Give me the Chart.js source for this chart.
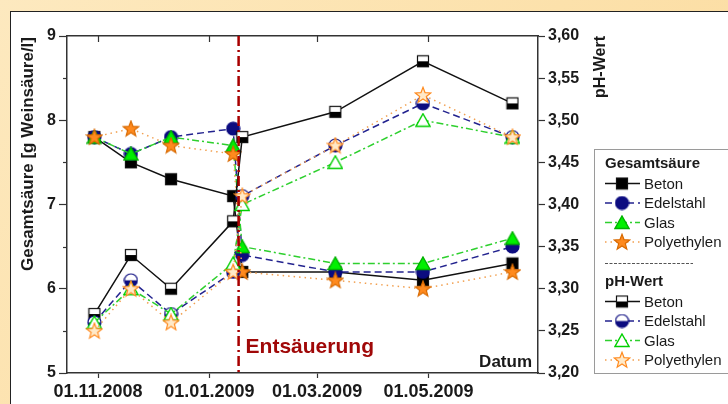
<!DOCTYPE html>
<html>
<head>
<meta charset="utf-8">
<script src="https://cdn.jsdelivr.net/npm/chart.js@4.4.1/dist/chart.umd.min.js"></script>
<style>
  html, body { margin: 0; padding: 0; }
  body {
    width: 728px; height: 404px; overflow: hidden; position: relative;
    background: linear-gradient(135deg, #fde9bf 0%, #fce1ab 50%, #fbd99a 100%);
  }
  #panel {
    position: absolute; left: 10px; top: 11px; width: 740px; height: 420px;
    background: #fff; border: 1.5px solid #222;
  }
  #chart { position: absolute; left: 0; top: 0; }
</style>
</head>
<body>
<div id="panel"></div>
<canvas id="chart" width="728" height="404"></canvas>
<script>
// Probenahme-Termine
const sampleDates = ['2008-10-30', '2008-11-19', '2008-12-11', '2009-01-14', '2009-01-19', '2009-03-11', '2009-04-28', '2009-06-16'];
const eventDate = '2009-01-17'; // Entsäuerung
const axisStart = '2008-10-15';
const axisEnd = '2009-06-30';
const tickDates = ['2008-11-01', '2009-01-01', '2009-03-01', '2009-05-01'];

// Gesamtsäure [g Weinsäure/l]
const gesBeton     = [7.8, 7.5, 7.3, 7.1, 6.2, 6.2, 6.1, 6.3];
const gesEdelstahl = [7.8, 7.6, 7.8, 7.9, 6.4, 6.2, 6.2, 6.5];
const gesGlas      = [7.8, 7.6, 7.8, 7.7, 6.5, 6.3, 6.3, 6.6];
const gesPoly      = [7.8, 7.9, 7.7, 7.6, 6.2, 6.1, 6.0, 6.2];

// pH-Wert
const phBeton     = [3.27, 3.34, 3.30, 3.38, 3.48, 3.51, 3.57, 3.52];
const phEdelstahl = [3.26, 3.31, 3.27, 3.32, 3.41, 3.47, 3.52, 3.48];
const phGlas      = [3.26, 3.30, 3.27, 3.33, 3.40, 3.45, 3.50, 3.48];
const phPoly      = [3.25, 3.30, 3.26, 3.32, 3.41, 3.47, 3.53, 3.48];

const materials = ['Beton', 'Edelstahl', 'Glas', 'Polyethylen'];
const leftTicks = [5, 6, 7, 8, 9];

const FONT = 'Arial, "Liberation Sans", sans-serif';

function day(s) {
  return Date.UTC(+s.slice(0, 4), +s.slice(5, 7) - 1, +s.slice(8, 10)) / 86400000;
}
function fmtDay(d) {
  const dt = new Date(d * 86400000);
  const p = n => String(n).padStart(2, '0');
  return p(dt.getUTCDate()) + '.' + p(dt.getUTCMonth() + 1) + '.' + dt.getUTCFullYear();
}

// --- Marker-Bilder ---
function mk(w, h, fn) {
  const c = document.createElement('canvas');
  c.width = w; c.height = h;
  fn(c.getContext('2d'));
  return c;
}
function square(top, bottom) {
  return mk(14, 14, g => {
    g.fillStyle = top; g.fillRect(1, 1, 12, 12);
    g.fillStyle = bottom; g.fillRect(1, 7, 12, 6);
    g.strokeStyle = '#111'; g.lineWidth = 1.2; g.strokeRect(1.5, 1.5, 11, 11);
  });
}
function circle(top, bottom, edge) {
  return mk(15, 15, g => {
    g.beginPath(); g.arc(7.5, 7.5, 6.5, 0, Math.PI * 2); g.fillStyle = top; g.fill();
    g.save(); g.beginPath(); g.rect(0, 7.5, 15, 8); g.clip();
    g.beginPath(); g.arc(7.5, 7.5, 6.5, 0, Math.PI * 2); g.fillStyle = bottom; g.fill();
    g.restore();
    g.beginPath(); g.arc(7.5, 7.5, 6.5, 0, Math.PI * 2); g.strokeStyle = edge; g.lineWidth = 1.2; g.stroke();
  });
}
function triangle(fill, edge) {
  return mk(16, 15, g => {
    g.beginPath(); g.moveTo(8, 1); g.lineTo(15, 13.5); g.lineTo(1, 13.5); g.closePath();
    g.fillStyle = fill; g.fill(); g.strokeStyle = edge; g.lineWidth = 1.4; g.stroke();
  });
}
function star(fill, edge) {
  return mk(18, 18, g => {
    g.beginPath();
    for (let i = 0; i < 10; i++) {
      const r = i % 2 === 0 ? 8.2 : 3.5;
      const a = -Math.PI / 2 + i * Math.PI / 5;
      g.lineTo(9 + r * Math.cos(a), 9.5 + r * Math.sin(a));
    }
    g.closePath();
    g.fillStyle = fill; g.fill(); g.strokeStyle = edge; g.lineWidth = 1.2; g.stroke();
  });
}

const styles = {
  Beton:       { color: '#111111', dash: [],           fill: square('#000', '#000'),            hollow: square('#fff', '#000') },
  Edelstahl:   { color: '#23238f', dash: [7, 4],       fill: circle('#0c0c80', '#0c0c80', '#0c0c80'), hollow: circle('#fff', '#0c0c80', '#0c0c80') },
  Glas:        { color: '#2ed02e', dash: [7, 3, 2, 3], fill: triangle('#00f000', '#00b000'),     hollow: triangle('#ffffff', '#00d000') },
  Polyethylen: { color: '#f2a050', dash: [1.5, 4],     fill: star('#ff8a1e', '#d86a00'),         hollow: star('#ffe9c8', '#ff8a1e') }
};

const xs = sampleDates.map(day);
const pts = vals => vals.map((v, i) => ({ x: xs[i], y: v }));

const gesSeries = [gesBeton, gesEdelstahl, gesGlas, gesPoly];
const phSeries = [phBeton, phEdelstahl, phGlas, phPoly];

const datasets = [];
materials.forEach((m, i) => {
  const st = styles[m];
  datasets.push({
    label: 'Gesamtsäure ' + m, data: pts(gesSeries[i]), yAxisID: 'y',
    borderColor: st.color, borderDash: st.dash, borderWidth: 1.5,
    pointStyle: st.fill, pointRadius: 5, order: 10 - i, group: 'ges', mat: m
  });
  datasets.push({
    label: 'pH-Wert ' + m, data: pts(phSeries[i]), yAxisID: 'y2',
    borderColor: st.color, borderDash: st.dash, borderWidth: 1.5,
    pointStyle: st.hollow, pointRadius: 5, order: 5 - i, group: 'ph', mat: m
  });
});

// Achsentitel, Ticks innen, Entsäuerung, Legende
const extras = {
  id: 'extras',
  afterDatasetsDraw(chart) {
    const { ctx, chartArea: a, scales } = chart;
    const ex = scales.x.getPixelForValue(day(eventDate));
    ctx.save();
    ctx.strokeStyle = '#a80000'; ctx.lineWidth = 2.5; ctx.setLineDash([10, 4, 2, 4]);
    ctx.beginPath(); ctx.moveTo(ex, a.top); ctx.lineTo(ex, a.bottom); ctx.stroke();
    ctx.restore();
  },
  afterDraw(chart) {
    const { ctx, chartArea: a, scales } = chart;
    ctx.save();
    ctx.strokeStyle = '#333'; ctx.lineWidth = 1.2;
    // Ticks oben nach innen
    tickDates.forEach(d => {
      const px = Math.round(scales.x.getPixelForValue(day(d))) + 0.5;
      ctx.beginPath(); ctx.moveTo(px, a.top); ctx.lineTo(px, a.top + 6); ctx.stroke();
    });
    // Zwischenticks links
    for (let v = 5.5; v < 9; v += 1) {
      const py = Math.round(scales.y.getPixelForValue(v)) + 0.5;
      ctx.beginPath(); ctx.moveTo(a.left - 4, py); ctx.lineTo(a.left, py); ctx.stroke();
    }

    ctx.fillStyle = '#1a1a1a';
    ctx.font = 'bold 17px ' + FONT;
    ctx.textAlign = 'center'; ctx.textBaseline = 'middle';
    ctx.save(); ctx.translate(28, 154); ctx.rotate(-Math.PI / 2);
    ctx.fillText('Gesamtsäure [g Weinsäure/l]', 0, 0); ctx.restore();
    ctx.font = 'bold 16px ' + FONT;
    ctx.save(); ctx.translate(601, 67); ctx.rotate(-Math.PI / 2);
    ctx.fillText('pH-Wert', 0, 0); ctx.restore();

    ctx.font = 'bold 17px ' + FONT;
    ctx.textAlign = 'right'; ctx.textBaseline = 'alphabetic';
    ctx.fillText('Datum', a.right - 6, a.bottom - 6);

    ctx.fillStyle = '#a00808';
    ctx.font = 'bold 21px ' + FONT; ctx.textAlign = 'left';
    ctx.fillText('Entsäuerung', scales.x.getPixelForValue(day(eventDate)) + 7, a.bottom - 20);

    // Legende
    const lx = 594, ly = 149;
    ctx.fillStyle = '#fff'; ctx.fillRect(lx, ly, 150, 224);
    ctx.strokeStyle = '#9a9a9a'; ctx.lineWidth = 1; ctx.setLineDash([]);
    ctx.strokeRect(lx + 0.5, ly + 0.5, 150, 224);
    const rowsFor = (group, headY, title) => {
      ctx.fillStyle = '#1a1a1a'; ctx.font = 'bold 15px ' + FONT;
      ctx.textAlign = 'left'; ctx.textBaseline = 'middle';
      ctx.fillText(title, 605, headY);
      chart.data.datasets.filter(d => d.group === group).forEach((d, i) => {
        const y = headY + 19.5 * (i + 1);
        ctx.save();
        ctx.strokeStyle = d.borderColor; ctx.lineWidth = 1.5; ctx.setLineDash(d.borderDash);
        ctx.beginPath(); ctx.moveTo(605, y); ctx.lineTo(640, y); ctx.stroke();
        ctx.restore();
        const img = d.pointStyle;
        ctx.drawImage(img, 622 - img.width / 2, y - img.height / 2);
        ctx.fillStyle = '#1a1a1a'; ctx.font = '15px ' + FONT;
        ctx.fillText(d.mat, 644, y + 1);
      });
    };
    rowsFor('ges', 164, 'Gesamtsäure');
    ctx.save();
    ctx.strokeStyle = '#555'; ctx.lineWidth = 1; ctx.setLineDash([3, 1.5]);
    ctx.beginPath(); ctx.moveTo(605, 263.5); ctx.lineTo(693, 263.5); ctx.stroke();
    ctx.restore();
    rowsFor('ph', 282, 'pH-Wert');
    ctx.restore();
  }
};

new Chart(document.getElementById('chart'), {
  type: 'line',
  data: { datasets },
  plugins: [extras],
  options: {
    responsive: false,
    animation: false,
    devicePixelRatio: 1,
    layout: { padding: 0 },
    plugins: { legend: { display: false }, tooltip: { enabled: false } },
    elements: { line: { tension: 0, fill: false } },
    scales: {
      x: {
        type: 'linear', position: 'bottom',
        min: day(axisStart), max: day(axisEnd),
        afterBuildTicks: s => { s.ticks = tickDates.map(d => ({ value: day(d) })); },
        afterFit: s => { s.height = 31; },
        ticks: { callback: v => fmtDay(v), maxRotation: 0, autoSkip: false, padding: 3,
                 color: '#1a1a1a', font: { family: FONT, size: 18, weight: 'bold' } },
        grid: { drawOnChartArea: false, tickLength: 5, color: '#333', tickWidth: 1.2 },
        border: { display: true, color: '#333', width: 1.5 }
      },
      xTop: {
        type: 'linear', position: 'top',
        min: day(axisStart), max: day(axisEnd),
        afterFit: s => { s.height = 36; },
        ticks: { display: false },
        grid: { display: false },
        border: { display: true, color: '#333', width: 1.5 }
      },
      y: {
        position: 'left', min: 5, max: 9,
        afterBuildTicks: s => { s.ticks = leftTicks.map(v => ({ value: v })); },
        afterFit: s => { s.width = 67; },
        ticks: { padding: 3, color: '#1a1a1a', font: { family: FONT, size: 16, weight: 'bold' } },
        grid: { drawOnChartArea: false, tickLength: 8, color: '#333', tickWidth: 1.2 },
        border: { display: true, color: '#333', width: 1.5 }
      },
      y2: {
        position: 'right', min: 3.2, max: 3.6,
        ticks: { stepSize: 0.05, padding: 3, callback: v => v.toFixed(2).replace('.', ','),
                 color: '#1a1a1a', font: { family: FONT, size: 16, weight: 'bold' } },
        afterFit: s => { s.width = 190; },
        grid: { drawOnChartArea: false, tickLength: 7, color: '#333', tickWidth: 1.2 },
        border: { display: true, color: '#333', width: 1.5 }
      }
    }
  }
});
</script>
</body>
</html>
